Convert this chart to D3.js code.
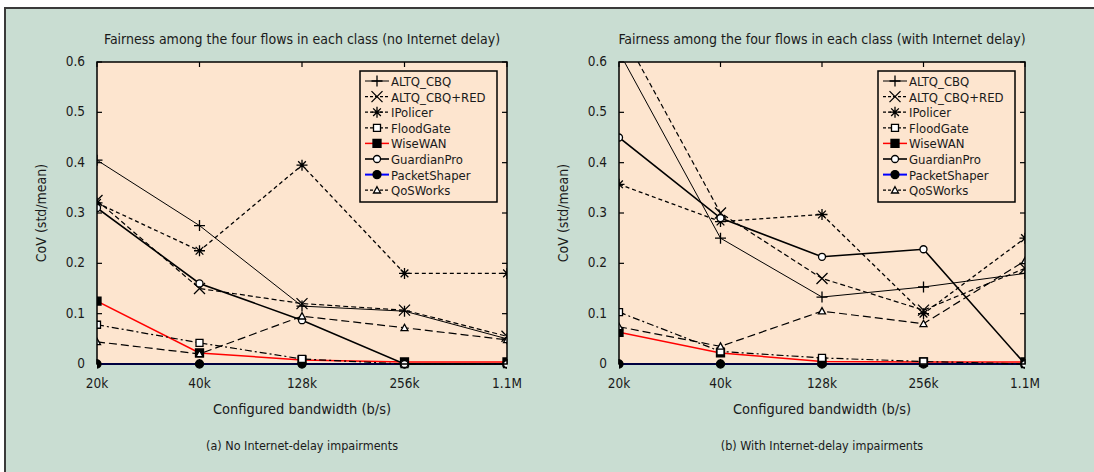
<!DOCTYPE html>
<html>
<head>
<meta charset="utf-8">
<script src="https://cdn.jsdelivr.net/npm/d3@7"></script>
<style>
  body { margin: 0; background: #fff; }
  text { font-family: "DejaVu Sans Condensed", "Liberation Sans", sans-serif; fill: #1a1a1a; }
</style>
</head>
<body>
<svg id="chart" width="1094" height="472"></svg>
<script>
// categories and values
const bandwidths = ["20k", "40k", "128k", "256k", "1.1M"];
const seriesNames = ["ALTQ_CBQ", "ALTQ_CBQ+RED", "IPolicer", "FloodGate", "WiseWAN", "GuardianPro", "PacketShaper", "QoSWorks"];
const yTicks = [0, 0.1, 0.2, 0.3, 0.4, 0.5, 0.6];

// (a) no Internet delay, one row per series in seriesNames order
const noDelayValues = [
    [0.405, 0.275, 0.115, 0.105, 0.05],
    [0.325, 0.15, 0.12, 0.107, 0.055],
    [0.32, 0.225, 0.395, 0.18, 0.18],
    [0.078, 0.042, 0.01, 0, 0],
    [0.125, 0.022, 0.008, 0.004, 0.004],
    [0.31, 0.16, 0.087, 0, 0],
    [0, 0, 0, 0, 0],
    [0.044, 0.02, 0.095, 0.072, 0.048]
];

// (b) with Internet delay
const withDelayValues = [
    [0.62, 0.25, 0.133, 0.153, 0.18],
    [0.67, 0.30, 0.17, 0.107, 0.19],
    [0.357, 0.283, 0.297, 0.10, 0.25],
    [0.103, 0.025, 0.012, 0.005, 0],
    [0.063, 0.022, 0.005, 0.004, 0.004],
    [0.45, 0.29, 0.213, 0.228, 0],
    [0, 0, 0, 0, 0],
    [0.074, 0.035, 0.105, 0.08, 0.205]
];

const titles = ["Fairness among the four flows in each class (no Internet delay)",
                "Fairness among the four flows in each class (with Internet delay)"];
const captions = ["(a) No Internet-delay impairments", "(b) With Internet-delay impairments"];

// look of each series
const styles = [
    { color: "#000", width: 1, dash: null, marker: "plus" },
    { color: "#000", width: 1.2, dash: "5,3", marker: "times" },
    { color: "#000", width: 1.3, dash: "4,3", marker: "asterisk" },
    { color: "#000", width: 1.2, dash: "7,3,2,3", marker: "squareOpen" },
    { color: "#f00", width: 1.5, dash: null, marker: "square" },
    { color: "#000", width: 1.6, dash: null, marker: "circleOpen" },
    { color: "#00f", width: 2, dash: null, marker: "circle" },
    { color: "#000", width: 1.2, dash: "8,4", marker: "triangleOpen" }
];

const svg = d3.select("#chart");

svg.append("rect")
    .attr("x", 5).attr("y", 8)
    .attr("width", 1120).attr("height", 500)
    .attr("fill", "#c9ddd2")
    .attr("stroke", "#3a3a3a")
    .attr("stroke-width", 2);

const markerPath = (type, s) => {
    switch (type) {
        case "plus": return `M${-s},0H${s}M0,${-s}V${s}`;
        case "times": return `M${-s},${-s}L${s},${s}M${-s},${s}L${s},${-s}`;
        case "asterisk": return `M${-s},0H${s}M0,${-s}V${s}M${-s * 0.7},${-s * 0.7}L${s * 0.7},${s * 0.7}M${-s * 0.7},${s * 0.7}L${s * 0.7},${-s * 0.7}`;
        case "square":
        case "squareOpen": return `M${-s},${-s}H${s}V${s}H${-s}Z`;
        case "triangleOpen": return `M0,${-s}L${s},${s * 0.8}H${-s}Z`;
        default: return d3.symbol(d3.symbolCircle, Math.PI * s * s)();
    }
};

const drawMarker = (g, type, x, y) => {
    const filled = type === "square" || type === "circle";
    const open = type.endsWith("Open");
    const s = filled ? 4 : (open ? 3.5 : 5.5);
    g.append("path")
        .attr("transform", `translate(${x},${y})`)
        .attr("d", markerPath(type, s))
        .attr("fill", filled ? "#000" : (open ? "#fff" : "none"))
        .attr("stroke", "#000")
        .attr("stroke-width", 1.3);
};

const drawPanel = (idx, left, right, values) => {
    const top = 62, bottom = 364;
    const x = d3.scalePoint().domain(bandwidths).range([left, right]);
    const y = d3.scaleLinear().domain([0, 0.6]).range([bottom, top]);
    const g = svg.append("g");

    g.append("rect")
        .attr("x", left).attr("y", top)
        .attr("width", right - left).attr("height", bottom - top)
        .attr("fill", "#fde5cf");

    const clipId = "clip" + idx;
    g.append("clipPath").attr("id", clipId)
        .append("rect")
        .attr("x", left).attr("y", top)
        .attr("width", right - left).attr("height", bottom - top + 6);

    // inner ticks on all four sides
    const tickLen = 5;
    yTicks.forEach(t => {
        g.append("line").attr("x1", left).attr("x2", left + tickLen)
            .attr("y1", y(t)).attr("y2", y(t)).attr("stroke", "#000").attr("stroke-width", 1.2);
        g.append("line").attr("x1", right).attr("x2", right - tickLen)
            .attr("y1", y(t)).attr("y2", y(t)).attr("stroke", "#000").attr("stroke-width", 1.2);
        g.append("text")
            .attr("x", left - 12).attr("y", y(t) + 4)
            .attr("text-anchor", "end")
            .attr("font-size", 13.5)
            .text(t === 0 ? "0" : t.toFixed(1));
    });
    bandwidths.forEach(b => {
        g.append("line").attr("x1", x(b)).attr("x2", x(b))
            .attr("y1", top).attr("y2", top + tickLen).attr("stroke", "#000").attr("stroke-width", 1.2);
        g.append("line").attr("x1", x(b)).attr("x2", x(b))
            .attr("y1", bottom).attr("y2", bottom - tickLen).attr("stroke", "#000").attr("stroke-width", 1.2);
        g.append("text")
            .attr("x", x(b)).attr("y", 388)
            .attr("text-anchor", "middle")
            .attr("font-size", 13.5)
            .text(b);
    });

    const line = d3.line()
        .x((d, i) => x(bandwidths[i]))
        .y(d => y(d));

    const lines = g.append("g").attr("clip-path", `url(#${clipId})`);
    // blue and red first so black lines sit over them, like the original
    const order = [6, 4, 0, 1, 2, 3, 5, 7];
    order.forEach(k => {
        const st = styles[k];
        lines.append("path")
            .datum(values[k])
            .attr("d", line)
            .attr("fill", "none")
            .attr("stroke", st.color)
            .attr("stroke-width", st.width)
            .attr("stroke-dasharray", st.dash);
    });
    order.forEach(k => {
        values[k].forEach((v, i) => {
            if (v <= 0.6) drawMarker(lines, styles[k].marker, x(bandwidths[i]), y(v));
        });
    });

    g.append("rect")
        .attr("x", left).attr("y", top)
        .attr("width", right - left).attr("height", bottom - top)
        .attr("fill", "none").attr("stroke", "#000").attr("stroke-width", 1.5);

    // legend
    const lx = right - 147, ly = 71, lw = 137, lh = 131;
    g.append("rect")
        .attr("x", lx).attr("y", ly).attr("width", lw).attr("height", lh)
        .attr("fill", "#fde5cf").attr("stroke", "#000").attr("stroke-width", 1.5);
    seriesNames.forEach((name, k) => {
        const st = styles[k];
        const ry = ly + 10 + k * 15.6;
        g.append("line")
            .attr("x1", lx + 5).attr("x2", lx + 29)
            .attr("y1", ry).attr("y2", ry)
            .attr("stroke", st.color).attr("stroke-width", st.width)
            .attr("stroke-dasharray", st.dash ? "3,2" : null);
        drawMarker(g, st.marker, lx + 17, ry);
        g.append("text")
            .attr("x", lx + 31).attr("y", ry + 5)
            .attr("font-size", 13)
            .text(name);
    });

    const cx = (left + right) / 2;
    g.append("text")
        .attr("x", cx).attr("y", 44)
        .attr("text-anchor", "middle").attr("font-size", 14)
        .text(titles[idx]);
    g.append("text")
        .attr("x", cx).attr("y", 414)
        .attr("text-anchor", "middle").attr("font-size", 14.5)
        .text("Configured bandwidth (b/s)");
    g.append("text")
        .attr("x", cx).attr("y", 450)
        .attr("text-anchor", "middle").attr("font-size", 12.5)
        .text(captions[idx]);
    g.append("text")
        .attr("transform", `translate(${left - 51},${(top + bottom) / 2}) rotate(-90)`)
        .attr("text-anchor", "middle").attr("font-size", 14)
        .text("CoV (std/mean)");
};

drawPanel(0, 97, 507, noDelayValues);
drawPanel(1, 619, 1025, withDelayValues);
</script>
</body>
</html>
